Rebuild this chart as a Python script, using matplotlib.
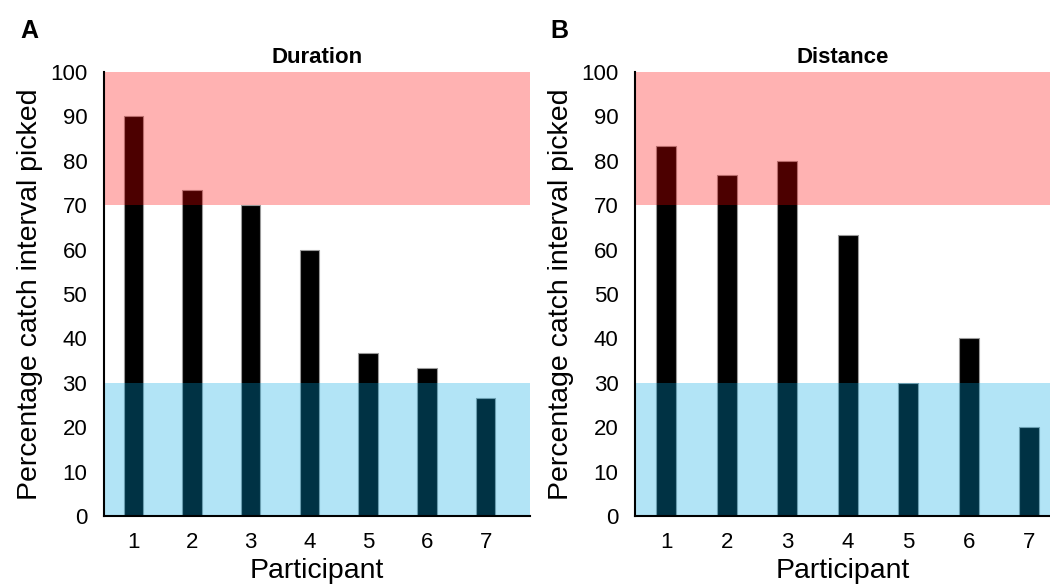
import numpy as np
import matplotlib
matplotlib.use('agg')
import matplotlib.pyplot as plt

plt.rcParams['font.family'] = ['Liberation Sans', 'DejaVu Sans']

# data
participants = [1, 2, 3, 4, 5, 6, 7]
duration = [90, 73.3, 70, 60, 36.7, 33.3, 26.7]
distance = [83.3, 76.7, 80, 63.3, 30, 40, 20]
yticks = list(range(0, 101, 10))

fig = plt.figure(figsize=(10.5, 5.88), dpi=100)
ax1 = fig.add_axes([0.099, 0.1216, 0.406, 0.7568])
ax2 = fig.add_axes([0.605, 0.1216, 0.395, 0.7568])


def panel(ax, values, title, xlim):
    ax.bar(participants, values, width=0.33, color='black',
           edgecolor='#9a9a9a', linewidth=0.8, zorder=1)
    # shaded bands drawn on top of the bars
    ax.axhspan(70, 100, color=(1.0, 0.0, 0.0), alpha=0.3, lw=0, zorder=2)
    ax.axhspan(0, 30, color=(0.0, 0.66, 0.89), alpha=0.3, lw=0, zorder=2)
    ax.set_xlim(*xlim)
    ax.set_ylim(0, 100)
    ax.set_yticks(yticks)
    ax.set_xticks(participants)
    ax.tick_params(axis='both', length=0, labelsize=16)
    ax.tick_params(axis='y', pad=12)
    ax.tick_params(axis='x', pad=11)
    for s in ['top', 'right']:
        ax.spines[s].set_visible(False)
    ax.spines['left'].set_linewidth(1.5)
    ax.spines['bottom'].set_linewidth(1.5)
    ax.set_title(title, fontsize=16, weight='bold', pad=6)
    ax.set_xlabel('Participant', fontsize=20.5, labelpad=4)
    ax.set_ylabel('Percentage catch interval picked', fontsize=20.5, labelpad=5)


panel(ax1, duration, 'Duration', (0.5, 7.76))
panel(ax2, distance, 'Distance', (0.49, 7.34))

fig.text(0.019, 0.935, 'A', fontsize=18, weight='bold')
fig.text(0.524, 0.935, 'B', fontsize=18, weight='bold')

fig.savefig('out.png', dpi=100)
